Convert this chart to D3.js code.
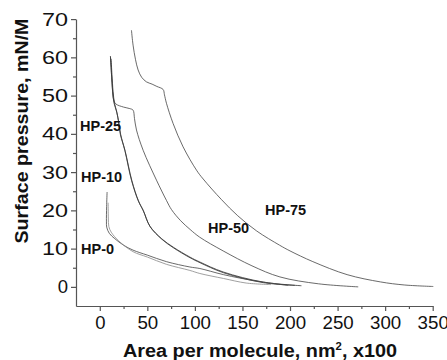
<!DOCTYPE html>
<html><head><meta charset="utf-8">
<script src="https://cdn.jsdelivr.net/npm/d3@7"></script>
<style>
body{margin:0;background:#fff;}
svg{display:block;font-family:"Liberation Sans",Arial,sans-serif;}
</style></head>
<body><svg id="c" width="447" height="360"></svg>
<script>
// Data (x: area per molecule nm^2 x100, y: surface pressure mN/M)
const xTicks = [0,50,100,150,200,250,300,350];
const yTicks = [0,10,20,30,40,50,60,70];
const hp75 = [[33.3,67.1],[35,63.2],[37.5,59.5],[40.3,56.7],[44,54.8],[49,53.6],[55,53],[60,52.4],[66.6,51.6],[68,50.2],[70.1,48],[77.1,42.7],[87.6,36.6],[101.7,30.5],[108.7,28.2],[128,22.8],[145,18.6],[165,14.6],[189,10.9],[200,9.4],[224,6.6],[260,3.2],[295,1.3],[320,0.5],[350.6,0.1]];
const hp50 = [[11.2,60.3],[12,57],[13,53],[14.7,48.8],[17,47.8],[25,47],[31.6,46.6],[35,46.2],[36.5,44],[38.6,41],[45.6,35.7],[59.6,27.9],[70.1,22.6],[75.4,20.2],[85,17.3],[95,15],[105,13],[129.7,9.4],[160,5.5],[189.4,2.6],[230,0.8],[271.7,0]];
const hp25 = [[11.2,60.3],[12.2,56],[13.5,51],[15,48],[17.5,46],[19.5,43.5],[21.5,40],[26.3,35.7],[33.3,27.9],[40.3,22.6],[45.6,20],[52.6,15.9],[65,12.6],[77.1,10.4],[94.7,7.8],[105.2,6.5],[129.7,3.9],[171.8,1.26],[212,0.3]];
const hp10 = [[11.9,59.6],[12.8,55.5],[14,51],[15.5,48],[18,45.6],[20,43],[22,39.8],[26.8,35.4],[33.8,27.7],[40.8,22.4],[46,19.8],[53,15.7],[65.5,12.4],[77.5,10.2],[95,7.6],[105.5,6.3],[130,3.7],[172,1.1],[205,0.4]];
const hp0a = [[7.7,24.8],[7.2,21],[7,17],[7.3,15.6],[10,14],[15.8,12.6],[25,10.9],[35,9.6],[50,8.3],[70,6.6],[94.7,5.2],[105.2,4.8],[130,3.2],[165,1.5],[198,0.4]];
const hp0b = [[8.8,22],[9,18],[9.5,15.8],[12,14.3],[20,12],[35,9.2],[50,7.8],[70,5.9],[94.7,4.3],[105.2,3.5],[130,2.2],[154,1.0],[180,0.6]];
const labels = ["HP-75","HP-50","HP-25","HP-10","HP-0"];

const svg = d3.select("#c");
const x = d3.scaleLinear().domain([-25,350]).range([76,432.7]);
const y = d3.scaleLinear().domain([-5,70]).range([306,19.1]);

const line = d3.line().x(d=>x(d[0])).y(d=>y(d[1])).curve(d3.curveCatmullRom.alpha(0.5));
const series = [
  {d:hp75,c:"#444"},{d:hp50,c:"#444"},{d:hp25,c:"#333"},{d:hp10,c:"#333"},{d:hp0a,c:"#444"},{d:hp0b,c:"#888"}
];
svg.append("g").selectAll("path").data(series).join("path")
  .attr("d",s=>line(s.d)).attr("fill","none").attr("stroke",s=>s.c).attr("stroke-width",0.8);

// axes
const xMinor = d3.range(-25,351,25).filter(v=>v%50!==0 && v>-25);
const yMinor = d3.range(-5,71,5).filter(v=>v%10!==0 && v>-5);
const gx = svg.append("g").attr("transform","translate(0,306)");
gx.call(d3.axisBottom(x).tickValues(xTicks).tickSize(5).tickSizeOuter(0).tickPadding(5));
gx.append("g").call(d3.axisBottom(x).tickValues(xMinor).tickSize(3).tickFormat("")).select(".domain").remove();
const gy = svg.append("g").attr("transform","translate(76,0)");
gy.call(d3.axisLeft(y).tickValues(yTicks).tickSize(5).tickSizeOuter(0).tickPadding(3));
gy.append("g").call(d3.axisLeft(y).tickValues(yMinor).tickSize(3).tickFormat("")).select(".domain").remove();
svg.selectAll(".domain, .tick line").attr("stroke","#555").attr("stroke-width",1.2);
svg.selectAll(".tick text").attr("font-size",18.5).attr("font-family","Liberation Sans, Arial, sans-serif").attr("fill","#111");
gx.selectAll(".tick text").filter(d=>String(d).length>1)
  .attr("textLength",d=>String(d).length*10.4).attr("lengthAdjust","spacingAndGlyphs");
gy.selectAll(".tick text").filter(d=>String(d).length>1)
  .attr("textLength",26).attr("lengthAdjust","spacingAndGlyphs");

// axis titles
svg.append("text").attr("transform","translate(28,131) rotate(-90)").attr("text-anchor","middle")
  .attr("font-size",17.5).attr("font-weight","bold").attr("fill","#111")
  .attr("textLength",225).attr("lengthAdjust","spacingAndGlyphs").text("Surface pressure, mN/M");
const xt = svg.append("text").attr("x",260).attr("y",357).attr("text-anchor","middle")
  .attr("font-size",17.5).attr("font-weight","bold").attr("fill","#111")
  .attr("textLength",274).attr("lengthAdjust","spacingAndGlyphs");
xt.append("tspan").text("Area per molecule, nm");
xt.append("tspan").attr("font-size",10).attr("dy",-7).text("2");
xt.append("tspan").attr("dy",7).text(", x100");

// series labels
const labPos = [[265,215],[208,233],[80,131],[81,181.5],[81,254]];
svg.append("g").selectAll("text").data(labels).join("text")
  .attr("x",(d,i)=>labPos[i][0]).attr("y",(d,i)=>labPos[i][1])
  .attr("font-size",14.5).attr("font-weight","bold").attr("fill","#111").text(d=>d);
</script></body></html>
